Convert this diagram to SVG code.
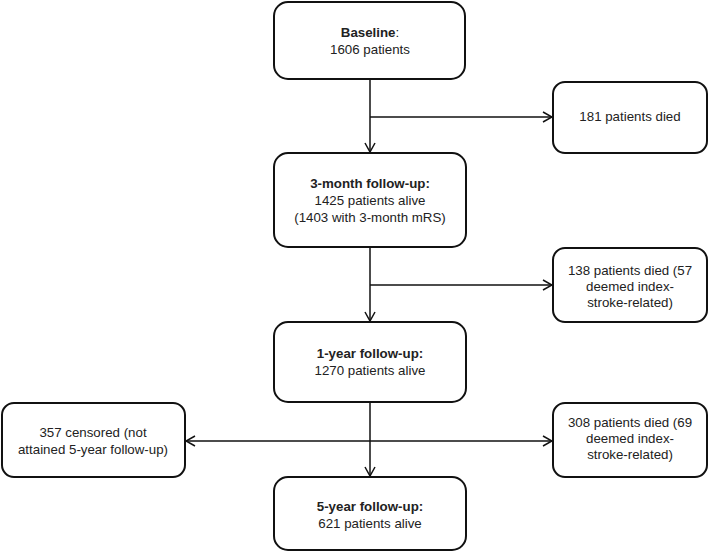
<svg xmlns="http://www.w3.org/2000/svg" width="709" height="552" viewBox="0 0 709 552">
<defs>
<style>
.box{fill:#fff;stroke:#111;stroke-width:2}
.t{font-family:"Liberation Sans",Arial,sans-serif;font-size:13.3px;fill:#222;text-anchor:middle}
.b{font-weight:bold}
.c{stroke:#111;stroke-width:1.5;fill:none}
</style>
<marker id="ah" viewBox="0 0 12 12" refX="11" refY="6" markerWidth="12" markerHeight="12" markerUnits="userSpaceOnUse" orient="auto">
<path d="M2,1 L11,6 L2,11" fill="none" stroke="#111" stroke-width="1.5"/>
</marker>
</defs>
<rect width="709" height="552" fill="#fff"/>
<g id="connectors">
<line class="c" x1="370" y1="80" x2="370" y2="152" marker-end="url(#ah)"/>
<line class="c" x1="370" y1="117" x2="552" y2="117" marker-end="url(#ah)"/>
<line class="c" x1="370" y1="247" x2="370" y2="321" marker-end="url(#ah)"/>
<line class="c" x1="370" y1="285" x2="552" y2="285" marker-end="url(#ah)"/>
<line class="c" x1="370" y1="402" x2="370" y2="476" marker-end="url(#ah)"/>
<line class="c" x1="370" y1="441" x2="552" y2="441" marker-end="url(#ah)"/>
<line class="c" x1="370" y1="441" x2="186" y2="441" marker-end="url(#ah)"/>
</g>
<g id="baseline">
<rect class="box" x="274" y="2" width="191" height="77" rx="14"/>
<text class="t" x="370" y="37"><tspan class="b">Baseline</tspan>:</text>
<text class="t" x="370" y="54">1606 patients</text>
</g>
<g id="died181">
<rect class="box" x="553" y="82" width="154" height="71" rx="12"/>
<text class="t" x="630" y="121">181 patients died</text>
</g>
<g id="month3">
<rect class="box" x="274" y="153" width="192" height="94" rx="14"/>
<text class="t b" x="370" y="188">3-month follow-up:</text>
<text class="t" x="370" y="205">1425 patients alive</text>
<text class="t" x="370" y="222">(1403 with 3-month mRS)</text>
</g>
<g id="died138">
<rect class="box" x="553" y="248" width="154" height="74" rx="12"/>
<text class="t" x="630" y="275">138 patients died (57</text>
<text class="t" x="630" y="291">deemed index-</text>
<text class="t" x="630" y="307">stroke-related)</text>
</g>
<g id="year1">
<rect class="box" x="274" y="322" width="192" height="80" rx="14"/>
<text class="t b" x="370" y="358">1-year follow-up:</text>
<text class="t" x="370" y="375">1270 patients alive</text>
</g>
<g id="censored357">
<rect class="box" x="2" y="403" width="183" height="74" rx="12"/>
<text class="t" x="93" y="437">357 censored (not</text>
<text class="t" x="93" y="454">attained 5-year follow-up)</text>
</g>
<g id="died308">
<rect class="box" x="553" y="403" width="154" height="74" rx="12"/>
<text class="t" x="630" y="427">308 patients died (69</text>
<text class="t" x="630" y="443">deemed index-</text>
<text class="t" x="630" y="459">stroke-related)</text>
</g>
<g id="year5">
<rect class="box" x="274" y="477" width="192" height="73" rx="14"/>
<text class="t b" x="370" y="511">5-year follow-up:</text>
<text class="t" x="370" y="528">621 patients alive</text>
</g>
</svg>
